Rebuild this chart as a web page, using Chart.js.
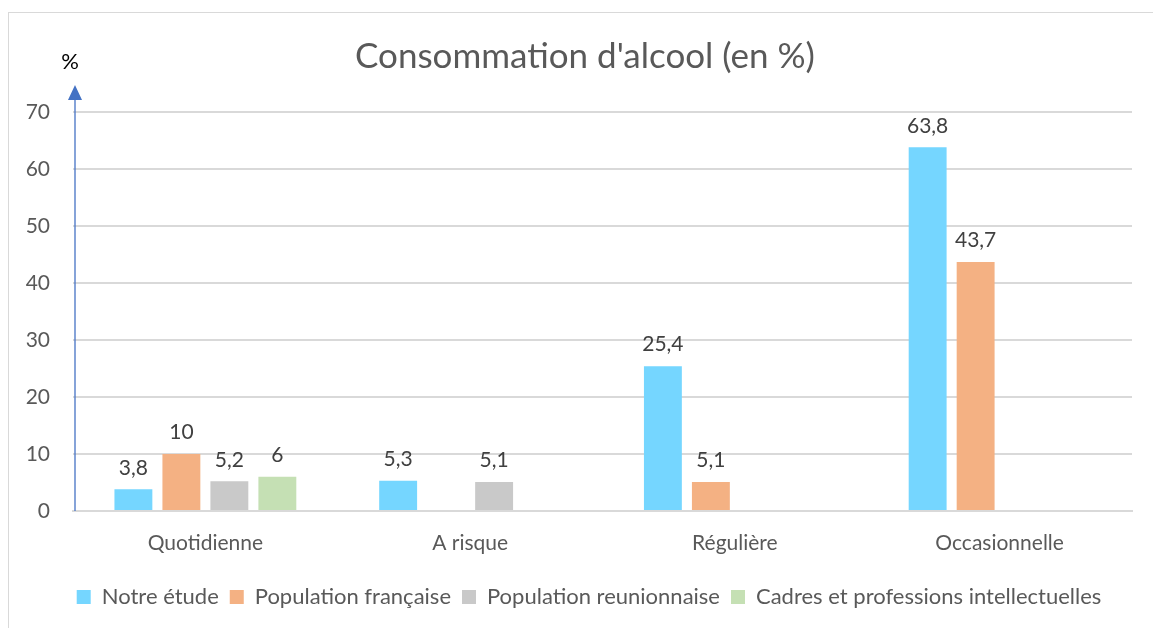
<!DOCTYPE html>
<html>
<head>
<meta charset="utf-8">
<script src="https://cdn.jsdelivr.net/npm/chart.js@4/dist/chart.umd.min.js"></script>
<style>
  html, body { margin: 0; padding: 0; background: #fff; }
  #wrap { position: relative; width: 1153px; height: 628px; }
  #frame { position: absolute; left: 8px; top: 12px; width: 1160px; height: 640px; border: 1px solid #d9d9d9; box-sizing: border-box; }
  canvas { position: absolute; left: 0; top: 0; }
</style>
</head>
<body>
<div id="wrap">
  <div id="frame"></div>
  <canvas id="myChart" width="1153" height="628"></canvas>
</div>
<script>
// Données du graphique
const categories = ['Quotidienne', 'A risque', 'Régulière', 'Occasionnelle'];
const seriesNames = ['Notre étude', 'Population française', 'Population reunionnaise', 'Cadres et professions intellectuelles'];
const notreEtude = [3.8, 5.3, 25.4, 63.8];
const popFrancaise = [10, null, 5.1, 43.7];
const popReunionnaise = [5.2, 5.1, null, null];
const cadres = [6, null, null, null];
const yTicks = [0, 10, 20, 30, 40, 50, 60, 70];
const titre = "Consommation d'alcool (en %)";

const colors = ['#75d6ff', '#f4b183', '#c9c9c9', '#c5e0b4'];
const font = 'Lato, "Open Sans", sans-serif';

// étiquettes de valeurs au-dessus des barres
const valueLabels = {
  id: 'valueLabels',
  afterDatasetsDraw(chart) {
    const ctx = chart.ctx;
    ctx.save();
    ctx.font = '21px ' + font;
    ctx.fillStyle = '#404040';
    ctx.textAlign = 'center';
    ctx.textBaseline = 'bottom';
    chart.data.datasets.forEach((ds, i) => {
      chart.getDatasetMeta(i).data.forEach((bar, j) => {
        const v = ds.data[j];
        if (v === null) return;
        ctx.fillText(String(v).replace('.', ','), bar.x, bar.y - 11);
      });
    });
    ctx.restore();
  }
};

// titre, axe vertical bleu avec flèche et "%"
const axisArrow = {
  id: 'axisArrow',
  afterLayout(chart) {
    // légende un peu décalée vers la droite comme dans Excel
    chart.legend.left += 23;
    chart.legend.right += 23;
  },
  afterDraw(chart) {
    const ctx = chart.ctx;
    const a = chart.chartArea;
    const x = a.left + 2;
    ctx.save();
    ctx.fillStyle = '#595959';
    ctx.font = '35px ' + font;
    ctx.textAlign = 'center';
    ctx.textBaseline = 'middle';
    ctx.fillText(titre, 585, 57);

    ctx.strokeStyle = '#4472c4';
    ctx.lineWidth = 1.3;
    ctx.beginPath();
    ctx.moveTo(x, a.bottom);
    ctx.lineTo(x, a.top - 12);
    ctx.stroke();
    ctx.fillStyle = '#4472c4';
    ctx.beginPath();
    ctx.moveTo(x, a.top - 27);
    ctx.lineTo(x - 7, a.top - 12);
    ctx.lineTo(x + 7, a.top - 12);
    ctx.closePath();
    ctx.fill();
    ctx.fillStyle = '#000';
    ctx.font = '22px ' + font;
    ctx.fillText('%', x - 5, a.top - 50);
    ctx.restore();
  }
};

const ctx1 = document.getElementById('myChart').getContext('2d');
new Chart(ctx1, {
  type: 'bar',
  data: {
    labels: categories,
    datasets: [notreEtude, popFrancaise, popReunionnaise, cadres].map((d, i) => ({
      label: seriesNames[i],
      data: d,
      backgroundColor: colors[i],
      borderWidth: 0,
      categoryPercentage: 0.725,
      barPercentage: 0.79
    }))
  },
  options: {
    responsive: false,
    animation: false,
    layout: { padding: { left: 0, right: 21, top: 112, bottom: 10 } },
    plugins: {
      title: { display: false },
      legend: {
        position: 'bottom',
        labels: {
          color: '#595959',
          font: { family: font, size: 22 },
          boxWidth: 14,
          boxHeight: 14,
          padding: 11
        }
      },
      tooltip: { enabled: false }
    },
    scales: {
      x: {
        grid: { display: false },
        border: { color: '#d9d9d9', width: 2 },
        ticks: { color: '#595959', font: { family: font, size: 21 }, padding: 12 },
        afterFit(scale) { scale.height = 64; }
      },
      y: {
        min: 0,
        max: 70,
        afterBuildTicks(scale) { scale.ticks = yTicks.map(v => ({ value: v })); },
        grid: { color: '#d9d9d9', lineWidth: 2, drawTicks: false },
        border: { display: false },
        ticks: { color: '#595959', font: { family: font, size: 21 }, padding: 23 },
        afterFit(scale) { scale.width = 73; }
      }
    }
  },
  plugins: [valueLabels, axisArrow]
});
</script>
</body>
</html>
